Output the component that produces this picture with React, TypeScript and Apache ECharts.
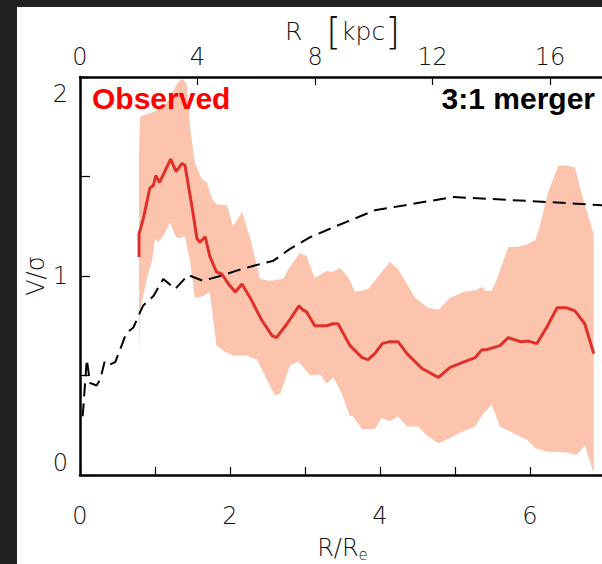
import React, { useEffect, useRef } from "react";
import * as echarts from "echarts";

// R/Re, V/sigma
const observedLine: [number, number][] = [
  [0.787, 1.096], [0.787, 1.21], [0.845, 1.29], [0.93, 1.44], [0.98, 1.456], [1.01, 1.505],
  [1.06, 1.47], [1.13, 1.525], [1.21, 1.587], [1.28, 1.525], [1.36, 1.566], [1.4, 1.555],
  [1.49, 1.355], [1.56, 1.187], [1.6, 1.17], [1.67, 1.197], [1.73, 1.1], [1.82, 1.02],
  [1.89, 1.01], [1.98, 0.96], [2.07, 0.92], [2.16, 0.96], [2.27, 0.89], [2.42, 0.78],
  [2.56, 0.7], [2.62, 0.69], [2.76, 0.76], [2.92, 0.85], [2.97, 0.83], [3.02, 0.82],
  [3.13, 0.75], [3.29, 0.75], [3.37, 0.76], [3.44, 0.76], [3.6, 0.65], [3.76, 0.59],
  [3.84, 0.58], [3.93, 0.61], [4.03, 0.66], [4.13, 0.67], [4.24, 0.67], [4.36, 0.61],
  [4.56, 0.535], [4.78, 0.49], [4.93, 0.54], [5.11, 0.567], [5.27, 0.59], [5.36, 0.63],
  [5.42, 0.63], [5.51, 0.64], [5.6, 0.65], [5.71, 0.69], [5.87, 0.67], [5.98, 0.673],
  [6.09, 0.66], [6.22, 0.74], [6.36, 0.84], [6.49, 0.84], [6.6, 0.825], [6.73, 0.76],
  [6.85, 0.61],
];

const bandUpper: [number, number][] = [
  [0.787, 1.59], [0.8, 1.8], [0.87, 1.81], [0.95, 1.82], [1.02, 1.83], [1.07, 1.86],
  [1.13, 1.86], [1.2, 1.89], [1.27, 1.95], [1.3, 1.97], [1.36, 1.99], [1.42, 1.97],
  [1.45, 1.85], [1.47, 1.74], [1.53, 1.57], [1.62, 1.49], [1.69, 1.47], [1.76, 1.39],
  [1.82, 1.36], [1.96, 1.355], [2.04, 1.25], [2.16, 1.32], [2.27, 1.19], [2.4, 0.985],
  [2.53, 0.976], [2.71, 0.985], [2.78, 1.035], [2.93, 1.115], [3.02, 1.1], [3.13, 0.99],
  [3.29, 1.027], [3.36, 1.02], [3.47, 1.04], [3.58, 0.99], [3.67, 0.92], [3.84, 0.935],
  [3.96, 0.99], [4.13, 1.07], [4.24, 1.035], [4.47, 0.89], [4.64, 0.84], [4.78, 0.83],
  [4.93, 0.89], [5.11, 0.92], [5.29, 0.93], [5.36, 0.945], [5.4, 0.926], [5.49, 0.926],
  [5.56, 0.985], [5.71, 1.146], [5.84, 1.146], [5.96, 1.16], [6.07, 1.18], [6.13, 1.25],
  [6.24, 1.42], [6.38, 1.555], [6.49, 1.555], [6.6, 1.545], [6.73, 1.355], [6.85, 1.21],
];

const bandLower: [number, number][] = [
  [0.787, 0.6], [0.8, 0.82], [0.89, 0.985], [0.96, 1.077], [1.0, 1.187], [1.04, 1.17],
  [1.11, 1.2], [1.2, 1.27], [1.28, 1.195], [1.33, 1.19], [1.4, 1.2], [1.47, 1.07],
  [1.53, 0.89], [1.64, 0.9], [1.73, 0.92], [1.82, 0.65], [1.93, 0.62], [2.04, 0.6],
  [2.22, 0.6], [2.36, 0.58], [2.49, 0.48], [2.6, 0.4], [2.67, 0.41], [2.8, 0.55],
  [2.91, 0.57], [3.07, 0.5], [3.2, 0.505], [3.29, 0.46], [3.38, 0.49], [3.49, 0.41],
  [3.6, 0.295], [3.64, 0.295], [3.76, 0.23], [3.93, 0.23], [4.02, 0.286], [4.13, 0.27],
  [4.24, 0.295], [4.36, 0.244], [4.51, 0.244], [4.62, 0.2], [4.78, 0.16], [4.93, 0.185],
  [5.11, 0.22], [5.27, 0.244], [5.36, 0.3], [5.49, 0.354], [5.6, 0.244], [5.78, 0.21],
  [5.96, 0.177], [6.07, 0.135], [6.22, 0.118], [6.49, 0.113], [6.62, 0.1], [6.73, 0.15],
  [6.85, 0.01],
];

const mergerLine: [number, number][] = [
  [0.036, 0.295], [0.09, 0.58], [0.11, 0.53], [0.13, 0.463], [0.22, 0.45], [0.27, 0.48],
  [0.33, 0.572], [0.4, 0.555], [0.47, 0.567], [0.62, 0.715], [0.71, 0.74], [0.8, 0.817],
  [0.84, 0.85], [0.98, 0.9], [1.11, 0.985], [1.27, 0.935], [1.44, 1.005], [1.64, 0.976],
  [1.87, 1.0], [2.09, 1.027], [2.36, 1.056], [2.58, 1.077], [2.8, 1.136], [3.07, 1.195],
  [3.38, 1.245], [3.93, 1.33], [4.98, 1.397], [6.22, 1.372], [7.0, 1.355],
];

const xMax = 7; // R/Re
const kpcPerRe = 2.553;
const bottomTickLabels = ["0", "2", "4", "6"];
const yTickLabels = ["0", "1", "2"];
const observedLabel = "Observed";
const mergerLabel = "3:1 merger";

const thinFont = "DejaVu Sans";

export default function App() {
  const ref = useRef<HTMLDivElement>(null);
  useEffect(() => {
    if (!ref.current) return;
    const chart = echarts.init(ref.current, null, { renderer: "svg" });
    const axisLabelStyle = {
      fontFamily: thinFont,
      fontWeight: 200 as any,
      fontSize: 24,
      color: "#111",
    };
    chart.setOption({
      animation: false,
      backgroundColor: "#ffffff",
      grid: {
        left: 63,
        top: 70,
        right: 7,
        bottom: 89,
        containLabel: false,
        outerBoundsMode: "none",
      },
      xAxis: [
        {
          type: "value",
          position: "bottom",
          min: 0,
          max: xMax,
          interval: 1,
          splitLine: { show: false },
          axisLine: { show: true, onZero: false, lineStyle: { color: "#000", width: 2.5 } },
          axisTick: { show: true, inside: true, length: 8, lineStyle: { color: "#000", width: 1.2 } },
          axisLabel: {
            ...axisLabelStyle,
            margin: 29,
            formatter: (v: number) => (bottomTickLabels.includes(String(v)) ? String(v) : ""),
          },
          name: "R/R{sub|e}",
          nameLocation: "middle",
          nameGap: 58,
          nameTextStyle: {
            ...axisLabelStyle,
            rich: {
              sub: { fontFamily: thinFont, fontWeight: 200 as any, fontSize: 15, color: "#111", padding: [14, 0, 0, 0] },
            },
          },
        },
        {
          type: "value",
          position: "top",
          min: 0,
          max: xMax * kpcPerRe,
          interval: 4,
          splitLine: { show: false },
          axisLine: { show: true, onZero: false, lineStyle: { color: "#000", width: 2.5 } },
          axisTick: { show: true, inside: true, length: 8, lineStyle: { color: "#000", width: 1.2 } },
          axisLabel: { ...axisLabelStyle, margin: 8, showMaxLabel: false },
          name: "R   {br|[}kpc{br|]}",
          nameLocation: "middle",
          nameGap: 27,
          nameMoveOverlap: false,
          nameTextStyle: {
            ...axisLabelStyle,
            fontSize: 25,
            rich: {
              br: { fontFamily: thinFont, fontWeight: 200 as any, fontSize: 38, color: "#111" },
            },
          },
        },
      ],
      yAxis: [
        {
          type: "value",
          min: 0,
          max: 2,
          interval: 0.5,
          splitLine: { show: false },
          axisLine: { show: true, onZero: false, lineStyle: { color: "#000", width: 2.5 } },
          axisTick: { show: true, inside: true, length: 10, lineStyle: { color: "#000", width: 1.2 } },
          axisLabel: {
            ...axisLabelStyle,
            margin: 12,
            verticalAlignMinLabel: "bottom",
            verticalAlignMaxLabel: "top",
            formatter: (v: number) =>
              v === 2 ? "{lo|2}" : yTickLabels.includes(String(v)) ? String(v) : "",
            rich: {
              lo: { fontFamily: thinFont, fontWeight: 200 as any, fontSize: 24, color: "#111", padding: [5, 0, 0, 0] },
            },
          },
          name: "V/σ",
          nameLocation: "middle",
          nameGap: 32,
          nameMoveOverlap: false,
          nameRotate: 90,
          nameTextStyle: { ...axisLabelStyle },
        },
      ],
      series: [
        {
          type: "custom",
          coordinateSystem: "cartesian2d",
          xAxisIndex: 0,
          yAxisIndex: 0,
          silent: true,
          data: [[0, 0]],
          renderItem: (_params: any, api: any) => {
            const pts = bandUpper
              .map((p) => api.coord(p))
              .concat(bandLower.slice().reverse().map((p) => api.coord(p)));
            return { type: "polygon", shape: { points: pts }, style: { fill: "#fcc3ad" } };
          },
          z: 1,
        },
        {
          type: "line",
          data: mergerLine,
          xAxisIndex: 0,
          showSymbol: false,
          symbol: "none",
          lineStyle: { color: "#000", width: 2, type: [13, 7] },
          z: 3,
        },
        {
          type: "line",
          data: observedLine,
          xAxisIndex: 0,
          showSymbol: false,
          symbol: "none",
          lineStyle: { color: "#e0302a", width: 3 },
          z: 4,
        },
      ],
      graphic: [
        {
          type: "text",
          left: 75,
          top: 76,
          z: 10,
          style: {
            text: observedLabel,
            fill: "#ff0000",
            font: "bold 30px 'Liberation Sans', Arial, sans-serif",
          },
        },
        {
          type: "text",
          right: 17,
          top: 76,
          z: 10,
          style: {
            text: mergerLabel,
            fill: "#000000",
            font: "bold 30px 'Liberation Sans', Arial, sans-serif",
          },
        },
      ],
    });
    return () => chart.dispose();
  }, []);

  return (
    <div
      style={{
        position: "fixed",
        left: 0,
        top: 0,
        width: 602,
        height: 564,
        background: "#222222",
        overflow: "hidden",
      }}
    >
      <div
        ref={ref}
        style={{ position: "absolute", left: 17, top: 7, width: 595, height: 557 }}
      />
    </div>
  );
}
